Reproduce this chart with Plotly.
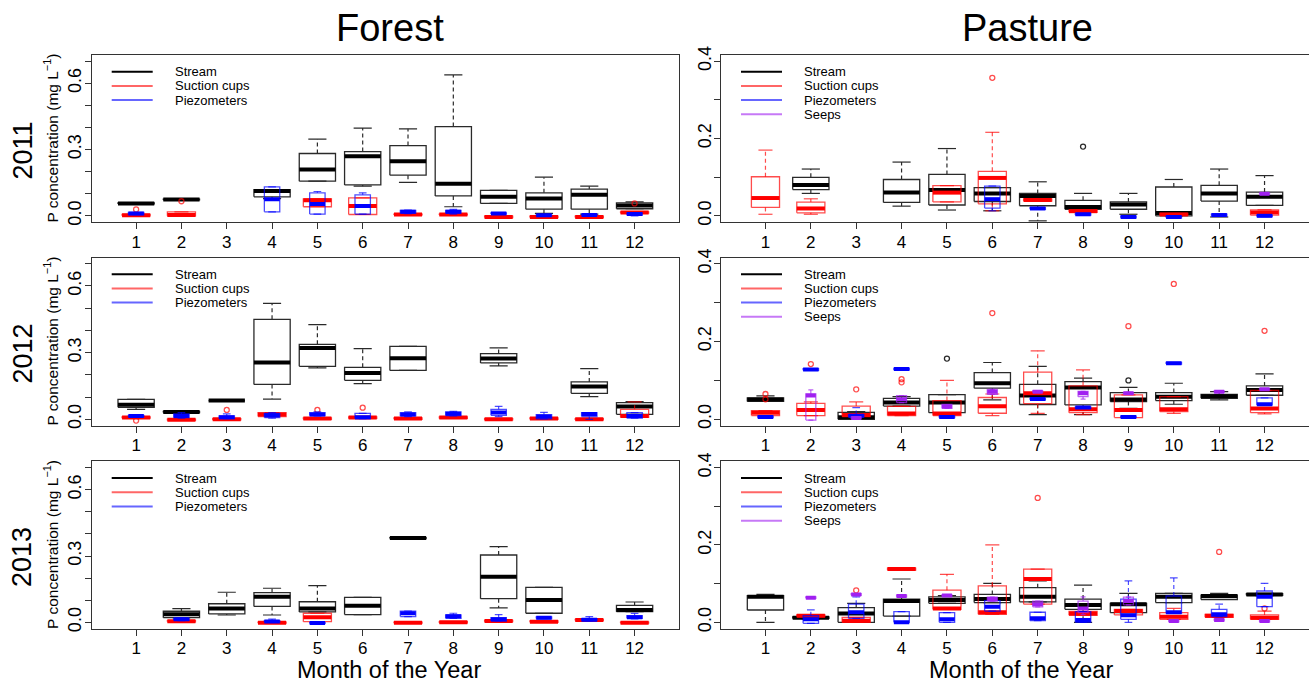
import plotly.graph_objects as go

W, H = 1309, 683
MONTHS = list(range(1, 13))
MONTH_LABELS = [str(m) for m in MONTHS]
SERIES_NAMES = ["Stream", "Suction cups", "Piezometers", "Seeps"]
YEARS = ["2011", "2012", "2013"]
SITES = ["Forest", "Pasture"]
FOREST_YTICKS = [0.0, 0.3, 0.6]
FOREST_YLABELS = ["0.0", "0.3", "0.6"]
PASTURE_YTICKS = [0.0, 0.2, 0.4]
PASTURE_YLABELS = ["0.0", "0.2", "0.4"]
MINOR_STEP = 0.1

# each entry per month: (lower whisker, Q1, median, Q3, upper whisker) or None
forest_2011_stream = [(0.056, 0.054, 0.056, 0.058, 0.058), (0.074, 0.072, 0.074, 0.076, 0.076), None,
                      (0.078, 0.086, 0.112, 0.119, 0.119), (0.157, 0.157, 0.21, 0.282, 0.347),
                      (0.134, 0.14, 0.27, 0.291, 0.397), (0.151, 0.184, 0.247, 0.318, 0.394),
                      (0.041, 0.09, 0.145, 0.404, 0.638), (0.056, 0.056, 0.086, 0.115, 0.115),
                      (0.011, 0.03, 0.078, 0.104, 0.175), (0.008, 0.03, 0.095, 0.121, 0.134),
                      (0.032, 0.032, 0.047, 0.059, 0.063)]
forest_2011_suction = [(0.0, 0.0, 0.003, 0.006, 0.01), (0.0, 0.0, 0.004, 0.018, 0.018), None, None,
                       (0.041, 0.041, 0.071, 0.077, 0.077), (0.006, 0.006, 0.044, 0.081, 0.081),
                       (0.004, 0.004, 0.006, 0.008, 0.008), (0.004, 0.004, 0.006, 0.008, 0.008),
                       (-0.008, -0.008, -0.005, -0.002, -0.002), (-0.008, -0.008, -0.005, -0.002, -0.002),
                       (-0.008, -0.008, -0.005, -0.002, -0.002), (0.012, 0.012, 0.015, 0.018, 0.018)]
forest_2011_piezo = [(0.005, 0.005, 0.01, 0.015, 0.015), None, None,
                     (0.018, 0.018, 0.075, 0.131, 0.131), (0.008, 0.008, 0.053, 0.104, 0.11),
                     (0.008, 0.008, 0.044, 0.095, 0.104), (0.01, 0.012, 0.018, 0.024, 0.026),
                     (0.008, 0.012, 0.018, 0.025, 0.029), (0.006, 0.008, 0.01, 0.013, 0.015),
                     (-0.002, 0.0, 0.002, 0.005, 0.007), (0.0, 0.002, 0.004, 0.006, 0.008),
                     (0.0, 0.003, 0.008, 0.012, 0.015)]
forest_2011_suction_out = [(1, 0.029), (2, 0.066), (12, 0.056)]

forest_2012_stream = [(0.045, 0.054, 0.065, 0.09, 0.09), (0.027, 0.03, 0.033, 0.036, 0.039),
                      (0.083, 0.084, 0.085, 0.086, 0.087), (0.091, 0.157, 0.255, 0.45, 0.522),
                      (0.231, 0.2385, 0.321, 0.3375, 0.426), (0.16, 0.1755, 0.208, 0.234, 0.318),
                      (0.22, 0.22, 0.2745, 0.3285, 0.3285), None, (0.24, 0.2535, 0.273, 0.2955, 0.321),
                      None, (0.102, 0.117, 0.147, 0.168, 0.228), (0.0225, 0.0225, 0.057, 0.075, 0.08)]
forest_2012_suction = [(0.005, 0.005, 0.008, 0.011, 0.011), (-0.005, -0.005, -0.002, 0.001, 0.001),
                       (-0.003, -0.003, 0.0, 0.003, 0.003), (0.012, 0.012, 0.021, 0.03, 0.03),
                       (0.0, 0.0, 0.003, 0.006, 0.006), (0.004, 0.004, 0.0075, 0.011, 0.011),
                       (0.0, 0.0, 0.003, 0.006, 0.006), (0.004, 0.004, 0.0075, 0.011, 0.011),
                       (-0.003, -0.003, 0.0, 0.003, 0.003), (0.0, 0.0, 0.003, 0.006, 0.006),
                       (-0.003, -0.003, 0.0, 0.003, 0.003), (0.009, 0.009, 0.015, 0.045, 0.078)]
forest_2012_piezo = [(0.01, 0.012, 0.015, 0.018, 0.02), (0.005, 0.007, 0.015, 0.024, 0.03),
                     (0.003, 0.003, 0.009, 0.015, 0.024), (0.005, 0.008, 0.018, 0.027, 0.03),
                     (0.015, 0.017, 0.022, 0.03, 0.033), (0.003, 0.003, 0.009, 0.027, 0.027),
                     (0.012, 0.015, 0.022, 0.03, 0.033), (0.015, 0.017, 0.025, 0.033, 0.036),
                     (0.012, 0.018, 0.031, 0.045, 0.058), (0.0015, 0.0015, 0.012, 0.021, 0.031),
                     (0.0, 0.012, 0.024, 0.03, 0.03), (0.005, 0.005, 0.015, 0.03, 0.03)]
forest_2012_suction_out = [(1, -0.006), (3, 0.042), (5, 0.042), (6, 0.052)]

forest_2013_stream = [None, (0.021, 0.021, 0.036, 0.05, 0.062), (0.033, 0.038, 0.062, 0.084, 0.136),
                      (0.033, 0.072, 0.116, 0.134, 0.154), (0.047, 0.047, 0.062, 0.093, 0.166),
                      (0.035, 0.035, 0.075, 0.113, 0.113), (0.379, 0.379, 0.381, 0.383, 0.383), None,
                      (0.065, 0.107, 0.2065, 0.3045, 0.342), (0.041, 0.041, 0.101, 0.158, 0.158), None,
                      (0.048, 0.048, 0.056, 0.077, 0.092)]
forest_2013_suction = [None, (0.002, 0.002, 0.0045, 0.007, 0.007), None,
                       (-0.004, -0.004, -0.0015, 0.001, 0.001), (0.003, 0.003, 0.023, 0.041, 0.041), None,
                       (-0.004, -0.004, -0.0015, 0.001, 0.001), (-0.003, -0.003, 0.0, 0.003, 0.003),
                       (0.003, 0.003, 0.006, 0.009, 0.009), (0.0, 0.0, 0.003, 0.006, 0.006),
                       (0.008, 0.008, 0.0105, 0.013, 0.013), (-0.004, -0.004, -0.0015, 0.001, 0.001)]
forest_2013_piezo = [None, (0.008, 0.009, 0.0135, 0.018, 0.02), None, (0.0, 0.001, 0.004, 0.007, 0.014),
                     (-0.005, -0.005, -0.003, -0.001, -0.001), None, (0.026, 0.026, 0.041, 0.051, 0.051),
                     (0.018, 0.018, 0.027, 0.033, 0.041), (0.006, 0.006, 0.0135, 0.021, 0.035),
                     (0.016, 0.017, 0.021, 0.025, 0.026), (0.006, 0.008, 0.012, 0.017, 0.026),
                     (0.015, 0.018, 0.0225, 0.03, 0.04)]
forest_2013_suction_out = []

pasture_2011_stream = [None, (0.058, 0.068, 0.08, 0.0996, 0.121), None, (0.025, 0.0346, 0.0606, 0.094, 0.139),
                       (0.015, 0.028, 0.067, 0.107, 0.174), (0.013, 0.037, 0.058, 0.073, 0.073),
                       (-0.013, 0.026, 0.051, 0.058, 0.088), (0.017, 0.017, 0.023, 0.04, 0.058),
                       (0.004, 0.017, 0.029, 0.036, 0.058), (0.0, 0.0, 0.007, 0.0745, 0.094),
                       (-0.003, 0.038, 0.058, 0.079, 0.121), (0.027, 0.027, 0.049, 0.0615, 0.104)]
pasture_2011_suction = [(0.004, 0.0216, 0.046, 0.101, 0.17), (0.004, 0.0078, 0.019, 0.0355, 0.044), None, None,
                        (0.036, 0.036, 0.06, 0.078, 0.078), (0.013, 0.031, 0.098, 0.115, 0.216),
                        (0.038, 0.038, 0.041, 0.044, 0.044), (0.009, 0.009, 0.012, 0.015, 0.015), None,
                        (0.001, 0.001, 0.0035, 0.006, 0.006), None, (0.0017, 0.0017, 0.0087, 0.0156, 0.0156)]
pasture_2011_piezo = [None, None, None, None, None, (0.013, 0.02, 0.043, 0.077, 0.077),
                      (0.017, 0.017, 0.019, 0.021, 0.021), (0.002, 0.002, 0.004, 0.006, 0.006),
                      (-0.005, -0.005, -0.003, -0.001, -0.001), (-0.005, -0.005, -0.003, -0.001, -0.001),
                      (0.0, 0.0, 0.002, 0.004, 0.004), (-0.002, -0.002, 0.0, 0.002, 0.002)]
pasture_2011_seeps = [None] * 11 + [(0.056, 0.056, 0.057, 0.058, 0.058)]
pasture_2011_stream_out = [(8, 0.179)]
pasture_2011_suction_out = [(6, 0.357)]

pasture_2012_stream = [(0.046, 0.046, 0.0506, 0.055, 0.06), None, (0.0, 0.0, 0.005, 0.018, 0.02),
                       (0.034, 0.034, 0.043, 0.054, 0.058), (0.017, 0.017, 0.043, 0.0635, 0.0635),
                       (0.05, 0.08, 0.0927, 0.12, 0.146), (0.012, 0.038, 0.061, 0.09, 0.136),
                       (0.012, 0.037, 0.0815, 0.097, 0.1056), (0.028, 0.0455, 0.0506, 0.0687, 0.082),
                       (0.0386, 0.048, 0.058, 0.0687, 0.0927), (0.05, 0.054, 0.059, 0.064, 0.071),
                       (0.0618, 0.0618, 0.0755, 0.0858, 0.117)]
pasture_2012_suction = [(0.0094, 0.0094, 0.017, 0.022, 0.022), (0.0094, 0.0094, 0.024, 0.041, 0.045),
                        (0.007, 0.007, 0.011, 0.034, 0.045), (0.0094, 0.0094, 0.015, 0.033, 0.033),
                        (0.0094, 0.0094, 0.0146, 0.048, 0.1), (0.0094, 0.0155, 0.0335, 0.056, 0.065),
                        (0.015, 0.04, 0.067, 0.121, 0.176), (0.012, 0.017, 0.0258, 0.086, 0.127),
                        (0.0043, 0.0043, 0.024, 0.0627, 0.0627), (0.015, 0.0197, 0.0258, 0.058, 0.058),
                        None, (0.0137, 0.017, 0.028, 0.074, 0.074)]
pasture_2012_piezo = [(0.004, 0.004, 0.006, 0.008, 0.008), (0.126, 0.126, 0.128, 0.13, 0.13),
                      (0.004, 0.006, 0.009, 0.012, 0.03), (0.127, 0.127, 0.129, 0.131, 0.131),
                      (0.004, 0.004, 0.006, 0.008, 0.008), None, (0.05, 0.05, 0.052, 0.054, 0.054),
                      (0.028, 0.028, 0.03, 0.032, 0.032), (0.004, 0.004, 0.006, 0.008, 0.008),
                      (0.142, 0.142, 0.144, 0.146, 0.146), None, (0.037, 0.037, 0.0386, 0.055, 0.055)]
pasture_2012_seeps = [None, (-0.002, -0.002, 0.061, 0.065, 0.0755), (0.001, 0.001, 0.003, 0.006, 0.006),
                      (0.043, 0.043, 0.0515, 0.061, 0.061), (0.028, 0.028, 0.0326, 0.038, 0.038),
                      (0.064, 0.064, 0.071, 0.077, 0.077), (0.069, 0.069, 0.071, 0.073, 0.073),
                      (0.052, 0.058, 0.067, 0.072, 0.072), (0.065, 0.065, 0.067, 0.069, 0.069), None,
                      (0.069, 0.069, 0.071, 0.073, 0.073), (0.075, 0.075, 0.077, 0.079, 0.079)]
pasture_2012_stream_out = [(5, 0.156), (9, 0.1)]
pasture_2012_suction_out = [(1, 0.065), (1, 0.0515), (2, 0.142), (3, 0.077), (4, 0.103), (4, 0.095),
                            (6, 0.273), (9, 0.2395), (10, 0.348), (12, 0.2275)]

pasture_2013_stream = [(0.0, 0.0318, 0.066, 0.0688, 0.072), (0.009, 0.01, 0.012, 0.014, 0.015),
                       (0.0, 0.0, 0.023, 0.0378, 0.049), (0.016, 0.016, 0.055, 0.06, 0.112),
                       (0.049, 0.049, 0.0576, 0.066, 0.069), (0.051, 0.051, 0.06, 0.072, 0.1006),
                       (0.053, 0.053, 0.066, 0.0895, 0.107), (0.0, 0.0335, 0.0447, 0.06, 0.0963),
                       (0.025, 0.025, 0.0464, 0.049, 0.075), (0.051, 0.051, 0.066, 0.075, 0.075),
                       (0.059, 0.059, 0.068, 0.0705, 0.075), (0.069, 0.07, 0.072, 0.074, 0.075)]
pasture_2013_suction = [None, (0.015, 0.015, 0.017, 0.019, 0.019), (0.0, 0.0, 0.004, 0.013, 0.013),
                        (0.135, 0.135, 0.1376, 0.14, 0.14), (0.0335, 0.0335, 0.036, 0.083, 0.124),
                        (0.0206, 0.0206, 0.026, 0.094, 0.2), (0.047, 0.047, 0.112, 0.1376, 0.1376),
                        (0.018, 0.018, 0.023, 0.028, 0.028), (0.019, 0.019, 0.029, 0.0335, 0.0335),
                        (0.0077, 0.0077, 0.0146, 0.025, 0.036), (0.013, 0.013, 0.017, 0.0206, 0.0206),
                        (0.0077, 0.0077, 0.012, 0.019, 0.029)]
pasture_2013_piezo = [None, (-0.0026, -0.0026, 0.0077, 0.017, 0.032), (0.0103, 0.0103, 0.026, 0.047, 0.066),
                      (0.0, 0.0, 0.0, 0.0275, 0.0275), (0.0, 0.0, 0.0077, 0.025, 0.025),
                      (0.029, 0.029, 0.0404, 0.056, 0.056), (0.0043, 0.0043, 0.0103, 0.026, 0.026),
                      (0.0, 0.0, 0.006, 0.0275, 0.0275), (0.0, 0.0077, 0.018, 0.06, 0.107),
                      (0.023, 0.023, 0.026, 0.068, 0.115), (0.0146, 0.0146, 0.0206, 0.0335, 0.047),
                      (0.0404, 0.0404, 0.066, 0.081, 0.1006)]
pasture_2013_seeps = [None, (0.062, 0.062, 0.0637, 0.066, 0.066), (0.07, 0.07, 0.072, 0.074, 0.074),
                      (0.066, 0.066, 0.068, 0.07, 0.07), (0.067, 0.067, 0.069, 0.071, 0.071),
                      (0.055, 0.055, 0.06, 0.065, 0.065), (0.04, 0.04, 0.047, 0.055, 0.055),
                      (0.02, 0.025, 0.036, 0.055, 0.066), (0.045, 0.045, 0.055, 0.065, 0.065),
                      (0.001, 0.001, 0.0034, 0.006, 0.006), (0.004, 0.004, 0.006, 0.008, 0.008),
                      (0.001, 0.001, 0.0034, 0.006, 0.006)]
pasture_2013_suction_out = [(3, 0.0826), (7, 0.3217), (11, 0.182), (12, 0.036)]

# ---------------------------------------------------------------- styling
FONT = "Liberation Sans, Arial, Helvetica, sans-serif"
BOX_W = [0.8, 0.62, 0.34, 0.22]
OUTLINE = ["#2a2a2a", "rgba(255,0,0,0.7)", "rgba(0,0,255,0.7)", "rgba(160,32,240,0.7)"]
MEDIAN = ["#000000", "#ff0000", "#0000ff", "#a020f0"]
LEG_COL = ["#000000", "rgba(255,0,0,0.6)", "rgba(0,0,255,0.6)", "rgba(160,32,240,0.6)"]

# panel geometry in pixels
COL_X = [(91.7, 679.0), (721.0, 1309.0)]
ROW_Y = [(55.0, 222.0), (257.5, 425.5), (461.4, 628.5)]
YRANGE = [(-0.028, 0.728), (-0.016, 0.416)]

panels = [
    (0, 0, [forest_2011_stream, forest_2011_suction, forest_2011_piezo], [[], forest_2011_suction_out, [], []]),
    (0, 1, [pasture_2011_stream, pasture_2011_suction, pasture_2011_piezo, pasture_2011_seeps],
     [pasture_2011_stream_out, pasture_2011_suction_out, [], []]),
    (1, 0, [forest_2012_stream, forest_2012_suction, forest_2012_piezo], [[], forest_2012_suction_out, [], []]),
    (1, 1, [pasture_2012_stream, pasture_2012_suction, pasture_2012_piezo, pasture_2012_seeps],
     [pasture_2012_stream_out, pasture_2012_suction_out, [], []]),
    (2, 0, [forest_2013_stream, forest_2013_suction, forest_2013_piezo], [[], forest_2013_suction_out, [], []]),
    (2, 1, [pasture_2013_stream, pasture_2013_suction, pasture_2013_piezo, pasture_2013_seeps],
     [[], pasture_2013_suction_out, [], []]),
]

fig = go.Figure()
layout = dict(width=W, height=H, margin=dict(l=0, r=0, t=0, b=0), paper_bgcolor="white",
              plot_bgcolor="white", showlegend=False, font=dict(family=FONT, color="black"))
shapes, annots = [], []


def px_x(v):
    return v / W


def px_y(v):
    return 1 - v / H


for k, (r, c, series, outs) in enumerate(panels, start=1):
    xa = "x" if k == 1 else f"x{k}"
    ya = "y" if k == 1 else f"y{k}"
    x0, x1 = COL_X[c]
    y0, y1 = ROW_Y[r]
    layout["xaxis" if k == 1 else f"xaxis{k}"] = dict(
        domain=[px_x(x0), px_x(x1)], range=[0.02, 12.98], anchor=ya, tickvals=MONTHS, ticktext=MONTH_LABELS,
        ticks="outside", ticklen=6, tickwidth=1, tickcolor="#333", showline=True, mirror=True,
        linecolor="#333", linewidth=1.3, showgrid=False, zeroline=False, automargin=False,
        ticklabelstandoff=-2, tickfont=dict(size=17, family=FONT))
    yt = FOREST_YTICKS if c == 0 else PASTURE_YTICKS
    yl = FOREST_YLABELS if c == 0 else PASTURE_YLABELS
    layout["yaxis" if k == 1 else f"yaxis{k}"] = dict(
        domain=[px_y(y1), px_y(y0)], range=list(YRANGE[c]), anchor=xa, tickvals=yt, ticktext=yl,
        tickangle=-90, ticks="outside", ticklen=6, tickwidth=1, tickcolor="#333", showline=True,
        mirror=True, linecolor="#333", linewidth=1.3, showgrid=False, zeroline=False, automargin=False,
        ticklabelstandoff=-4,
        minor=dict(tick0=0, dtick=MINOR_STEP, ticks="outside", ticklen=6, tickwidth=1, tickcolor="#333",
                   showgrid=False),
        tickfont=dict(size=18, family=FONT))

    for s, stats in enumerate(series):
        w = BOX_W[s]
        h = w / 2
        bx, by, wx, wy, sx, sy, mx, my = [], [], [], [], [], [], [], []
        for m, st in zip(MONTHS, stats):
            if st is None:
                continue
            lo, q1, med, q3, hi = st
            bx += [m - h, m + h, m + h, m - h, m - h, None]
            by += [q1, q1, q3, q3, q1, None]
            wx += [m, m, None, m, m, None]
            wy += [q3, hi, None, q1, lo, None]
            sx += [m - h / 2, m + h / 2, None, m - h / 2, m + h / 2, None]
            sy += [hi, hi, None, lo, lo, None]
            mx += [m - h, m + h, None]
            my += [med, med, None]
        common = dict(xaxis=xa, yaxis=ya, hoverinfo="skip", showlegend=False)
        fig.add_trace(go.Scatter(x=wx, y=wy, mode="lines", line=dict(color=OUTLINE[s], width=1.2, dash="4px,3px"),
                                 **common))
        fig.add_trace(go.Scatter(x=sx, y=sy, mode="lines", line=dict(color=OUTLINE[s], width=1.2), **common))
        fig.add_trace(go.Scatter(x=bx, y=by, mode="lines", line=dict(color=OUTLINE[s], width=1.3), **common))
        fig.add_trace(go.Scatter(x=mx, y=my, mode="lines", line=dict(color=MEDIAN[s], width=4), **common))
        if outs[s]:
            fig.add_trace(go.Scatter(x=[o[0] for o in outs[s]], y=[o[1] for o in outs[s]], mode="markers",
                                     marker=dict(symbol="circle-open", size=5, color=OUTLINE[s],
                                                 line=dict(width=1.3, color=OUTLINE[s])), **common))

    # in-panel legend
    top = y0 + 16.7
    for s in range(len(series)):
        yy = top + 14.2 * s
        shapes.append(dict(type="line", xref="paper", yref="paper", x0=px_x(x0 + 20), x1=px_x(x0 + 61),
                           y0=px_y(yy), y1=px_y(yy), line=dict(color=LEG_COL[s], width=2)))
        annots.append(dict(text=SERIES_NAMES[s], xref="paper", yref="paper", x=px_x(x0 + 81), y=px_y(yy),
                           xanchor="left", yanchor="middle", showarrow=False, font=dict(size=13, family=FONT)))

# titles and labels
annots.append(dict(text="Forest", xref="paper", yref="paper", x=px_x(390), y=px_y(28), showarrow=False,
                   xanchor="center", yanchor="middle", font=dict(size=38, family=FONT)))
annots.append(dict(text="Pasture", xref="paper", yref="paper", x=px_x(1027), y=px_y(28), showarrow=False,
                   xanchor="center", yanchor="middle", font=dict(size=38, family=FONT)))
for xc in (389, 1021):
    annots.append(dict(text="Month of the Year", xref="paper", yref="paper", x=px_x(xc), y=px_y(669.8),
                       showarrow=False, xanchor="center", yanchor="middle", font=dict(size=23.5, family=FONT)))
for r, yr in enumerate(YEARS):
    yc = (ROW_Y[r][0] + ROW_Y[r][1]) / 2
    annots.append(dict(text=yr, xref="paper", yref="paper", x=px_x(22), y=px_y(yc + 12), showarrow=False,
                       textangle=-90, xanchor="center", yanchor="middle", font=dict(size=27, family=FONT)))
    annots.append(dict(text="P concentration (mg L<sup>\u22121</sup>)", xref="paper", yref="paper",
                       x=px_x(51), y=px_y(yc), showarrow=False, textangle=-90, xanchor="center",
                       yanchor="middle", font=dict(size=15.5, family=FONT)))

layout["shapes"] = shapes
layout["annotations"] = annots
fig.update_layout(**layout)
fig.write_html("out.html", config={"displayModeBar": False},
               post_script="document.body.style.margin='0';document.body.style.overflow='hidden';")
